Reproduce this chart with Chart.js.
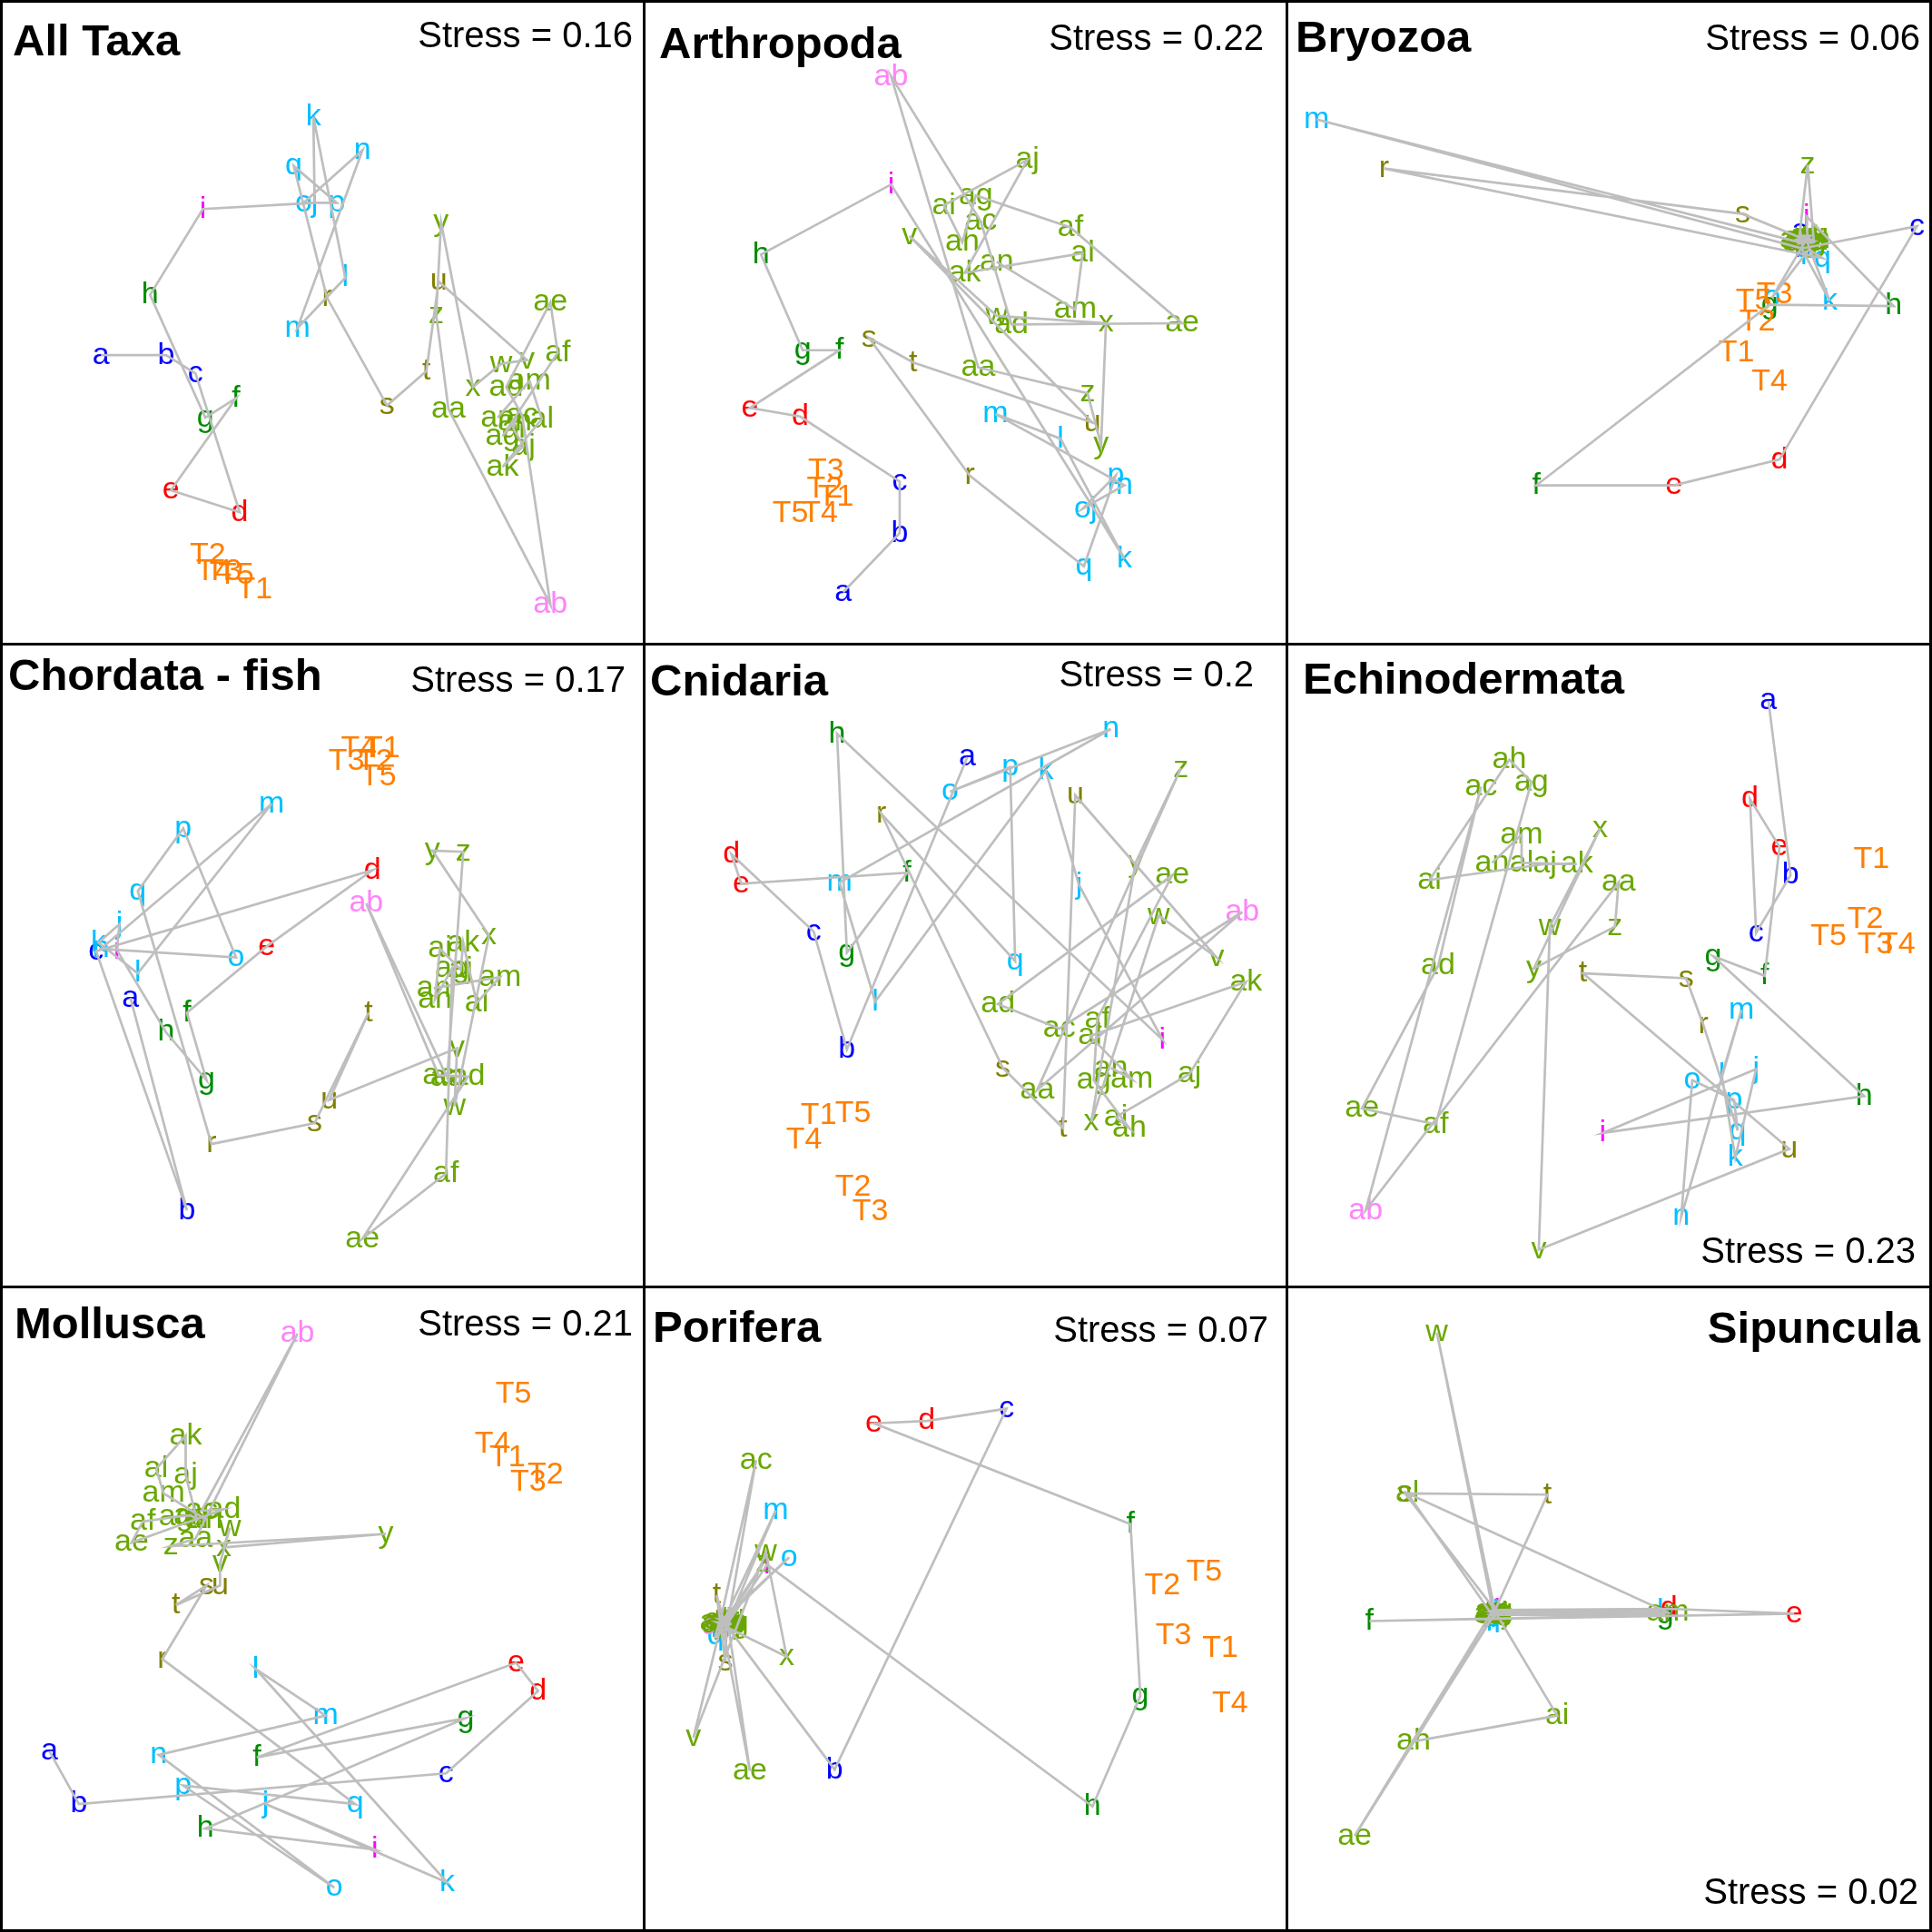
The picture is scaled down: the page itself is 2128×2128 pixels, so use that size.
<!DOCTYPE html>
<html>
<head>
<meta charset="utf-8">
<title>NMDS by taxon</title>
<script src="https://cdn.jsdelivr.net/npm/chart.js@4.4.1/dist/chart.umd.min.js"></script>
<style>
html,body{margin:0;padding:0;background:#fff}
#fig{position:relative;width:2128px;height:2128px;overflow:hidden}
.panel{position:absolute;box-sizing:border-box;border:3px solid #000;width:712px;height:712px;background:#fff}
.panel canvas{position:absolute;left:0;top:0}
.ttl{position:absolute;font:bold 49px "Liberation Sans",Arial,sans-serif;line-height:49px;height:49px;white-space:nowrap;color:#000}
.stress{position:absolute;font:40px "Liberation Sans",Arial,sans-serif;line-height:40px;height:40px;white-space:nowrap;color:#000}
</style>
</head>
<body>
<div id="fig"></div>
<script>
// sites along the transect (a..an) plus the five T samples
const sites = ['a','b','c','d','e','f','g','h','i','j','k','l','m','n','o','p','q','r','s','t','u',
  'v','w','x','y','z','aa','ab','ac','ad','ae','af','ag','ah','ai','aj','ak','al','am','an',
  'T1','T2','T3','T4','T5'];
const siteGroups = ['G1','G1','G1','G2','G2','G3','G3','G3','G4',
  'G5','G5','G5','G5','G5','G5','G5','G5','G6','G6','G6','G6',
  'G7','G7','G7','G7','G7','G7','G8','G7','G7','G7','G7','G7','G7','G7','G7','G7','G7','G7','G7',
  'T','T','T','T','T'];
const transectLength = 40; // a..an are joined in order, T1-T5 are not

// ordination scores (arbitrary units, y grows downwards)
const allTaxaX = [80,133,157,193,137,190,165,120,163,254,253,279,240,293,245,272,237,264,313,345,355,
  427,406,383,357,353,363,446,423,410,446,452,407,417,416,424,407,439,429,403, 205,167,180,172,190];
const allTaxaY = [287,287,302,415,397,322,338,238,168,163,93,224,265,120,163,163,133,240,328,300,227,
  291,294,313,179,254,331,490,336,313,244,285,353,341,347,361,378,339,308,338, 478,450,463,463,466];

const arthropodaX = [161,207,207,126,85,158,128,94,200,365,390,338,285,390,356,383,357,264,182,218,364,
  215,286,375,371,360,271,200,273,298,437,346,269,258,243,311,260,356,350,286, 155,146,147,142,118];
const arthropodaY = [480,432,390,337,330,283,283,205,148,412,453,355,335,393,412,385,459,385,273,293,342,
  190,255,261,360,318,297,60,178,262,261,183,157,195,165,128,220,204,250,211, 403,396,381,416,416];

const bryozoaX = [417,419,512,400,314,202,392,493,422,423,441,418,23,420,394,424,435,78,370,421,425,
  420,426,414,428,423,416,418,422,426,414,420,424,418,422,428,416,420,424,419, 365,382,396,392,379];
const bryozoaY = [186,200,182,372,393,393,246,247,174,196,243,200,95,196,240,201,208,135,172,193,190,
  190,193,195,195,132,192,194,190,194,193,191,195,193,192,194,196,190,193,195, 285,260,238,309,243];

const fishX = [104,150,76,301,215,150,166,133,93,95,78,110,219,80,190,147,110,170,254,298,266,
  370,368,396,350,375,362,296,355,379,293,361,366,352,356,373,375,386,405,351, 309,303,280,290,306];
const fishY = [287,460,249,183,245,299,354,315,248,227,242,267,129,247,254,149,200,406,389,299,370,
  328,375,236,167,168,352,210,350,351,483,430,263,288,247,264,242,291,270,279, 84,94,94,84,107];

const cnidariaX = [262,164,137,70,78,213,164,156,421,353,326,187,158,379,248,297,301,192,291,340,350,
  465,418,363,399,436,319,486,337,287,429,368,365,394,383,443,489,362,396,379, 141,169,183,129,169];
const cnidariaY = [91,329,233,170,194,185,250,72,321,195,102,290,193,68,119,99,257,137,344,393,122,
  254,220,388,177,100,362,217,312,292,187,304,354,393,384,349,274,318,353,344, 383,441,461,403,381];

const echinoX = [391,409,381,376,400,388,346,469,256,381,364,353,369,320,329,363,366,338,324,240,408,
  204,213,254,200,266,269,63,157,122,60,120,198,180,115,209,235,190,190,166, 475,470,478,496,440];
const echinoY = [45,187,234,125,164,269,253,367,397,345,417,350,297,465,354,370,395,309,271,267,410,
  492,229,149,263,229,193,460,115,261,377,390,111,93,191,178,178,177,154,177, 174,223,244,244,237];

const molluscaX = [38,62,361,436,418,207,377,165,303,214,362,206,263,127,270,147,287,130,166,141,177,
  177,185,180,312,137,157,240,162,180,105,114,141,153,158,149,149,125,131,165, 411,442,428,399,416];
const molluscaY = [377,420,395,328,305,382,350,440,457,420,484,310,348,380,488,405,420,302,242,258,242,
  224,195,211,200,210,204,37,181,180,207,190,186,185,188,152,120,147,167,188, 138,152,158,127,86];

const poriferaX = [64,154,294,229,186,395,403,364,99,66,62,68,106,64,117,60,57,66,65,58,63,
  39,98,115,62,96,65,60,90,67,85,62,70,58,64,68,61,66,63,69, 468,421,430,476,455];
const poriferaY = [272,392,98,108,110,192,332,422,225,274,276,270,181,270,219,272,283,277,304,250,268,
  366,215,300,274,224,273,275,140,272,393,271,273,272,275,274,270,271,273,272, 293,242,283,338,231];

const sipunculaX = [166,170,168,310,412,66,307,167,170,169,169,303,167,171,165,168,166,170,95,211,168,
  167,121,169,165,171,166,168,170,165,54,167,169,102,219,170,166,97,309,168, null,null,null,null,null];
const sipunculaY = [265,266,262,261,265,271,266,266,263,264,265,263,264,265,266,267,268,264,167,168,263,
  264,36,266,264,264,263,265,265,265,446,267,263,369,348,266,266,167,264,264, null,null,null,null,null];

const panelTitles = ['All Taxa','Arthropoda','Bryozoa','Chordata - fish','Cnidaria','Echinodermata','Mollusca','Porifera','Sipuncula'];
const stressValues = ['0.16','0.22','0.06','0.17','0.2','0.23','0.21','0.07','0.02'];
const panelX = [allTaxaX,arthropodaX,bryozoaX,fishX,cnidariaX,echinoX,molluscaX,poriferaX,sipunculaX];
const panelY = [allTaxaY,arthropodaY,bryozoaY,fishY,cnidariaY,echinoY,molluscaY,poriferaY,sipunculaY];

// styling
const groupColors = {G1:'#0000FF',G2:'#FF0000',G3:'#008B00',G4:'#FF00FF',G5:'#00BFFF',
  G6:'#808000',G7:'#69A800',G8:'#FF83FA',T:'#FF7F00'};
const labelFont = '34px "Liberation Sans", Arial, sans-serif';
// title: [left or right, centre y, anchored right?]; stress: [right, centre y]
const titlePos = [[11,42,0],[15,45,0],[8,38,0],[6,33,0],[5,39,0],[16,37,0],[13,39,0],[8,43,0],[10,44,1]];
const stressPos = [[12,35],[25,38],[10,38],[20,37],[36,31],[15,666],[12,38],[20,45],[12,664]];
const SPAN = 522, CANVAS = 706;

const fig = document.getElementById('fig');
panelX.forEach((xs, p) => {
  const ys = panelY[p];
  const col = p % 3, row = Math.floor(p / 3);
  const div = document.createElement('div');
  div.className = 'panel';
  div.style.left = (col * 708) + 'px';
  div.style.top = (row * 708) + 'px';
  const cv = document.createElement('canvas');
  cv.width = CANVAS; cv.height = CANVAS;
  div.appendChild(cv);

  const t = document.createElement('div');
  t.className = 'ttl';
  t.textContent = panelTitles[p];
  const tp = titlePos[p];
  if (tp[2]) t.style.right = tp[0] + 'px'; else t.style.left = tp[0] + 'px';
  t.style.top = (tp[1] - 25) + 'px';
  div.appendChild(t);

  const s = document.createElement('div');
  s.className = 'stress';
  s.textContent = 'Stress = ' + stressValues[p];
  s.style.right = stressPos[p][0] + 'px';
  s.style.top = (stressPos[p][1] - 20) + 'px';
  div.appendChild(s);
  fig.appendChild(div);

  const path = [];
  for (let i = 0; i < transectLength; i++) path.push({x: xs[i], y: ys[i]});

  const labels = {
    id: 'siteLabels' + p,
    beforeDatasetsDraw(chart) {
      const {ctx, scales: {x, y}} = chart;
      ctx.save();
      ctx.font = labelFont;
      ctx.textAlign = 'center';
      ctx.textBaseline = 'middle';
      sites.forEach((name, i) => {
        if (xs[i] == null || ys[i] == null) return;
        ctx.fillStyle = groupColors[siteGroups[i]];
        ctx.fillText(name, x.getPixelForValue(xs[i]), y.getPixelForValue(ys[i]));
      });
      ctx.restore();
    }
  };

  new Chart(cv, {
    type: 'scatter',
    data: {datasets: [{data: path, showLine: true, borderColor: '#BEBEBE', borderWidth: 2.7,
      pointRadius: 0, pointHoverRadius: 0, tension: 0, fill: false}]},
    options: {
      responsive: false, animation: false, devicePixelRatio: 1, events: [],
      layout: {padding: 0},
      scales: {
        x: {type: 'linear', min: 0, max: SPAN, display: false},
        y: {type: 'linear', min: 0, max: SPAN, reverse: true, display: false}
      },
      plugins: {legend: {display: false}, tooltip: {enabled: false}}
    },
    plugins: [labels]
  });
});
</script>
</body>
</html>
